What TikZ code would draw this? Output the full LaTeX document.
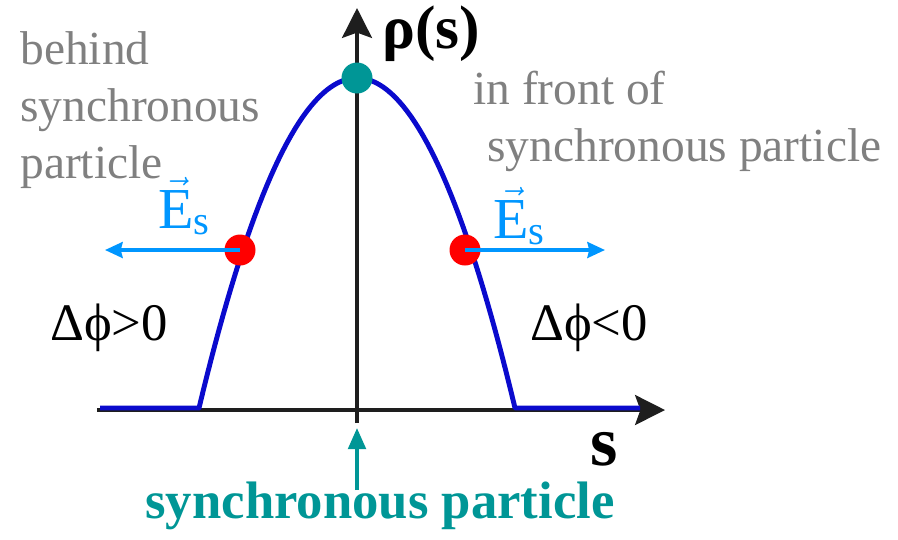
\documentclass[tikz,border=0pt]{standalone}
\usepackage{amsmath}
\usepackage{fontspec}
\setmainfont{Liberation Serif}
\usepackage{tikz}
\usetikzlibrary{arrows.meta}
\definecolor{curveblue}{RGB}{10,10,205}
\definecolor{fieldblue}{RGB}{0,150,255}
\definecolor{syncteal}{RGB}{0,150,150}
\definecolor{notegray}{RGB}{128,128,128}
\definecolor{axisblack}{RGB}{30,30,30}
\newcommand{\fieldE}{$\vec{\text{E}}_{\text{s}}$}

\begin{document}
\begin{tikzpicture}[x=0.02cm,y=-0.02cm,
axis/.style={line width=2.1pt,color=axisblack,-{Stealth[length=17pt,width=17pt,inset=3pt]}},
field/.style={line width=2pt,color=fieldblue,-{Stealth[length=10pt,width=9pt,inset=1pt]}},
dot/.style={circle,fill=#1,minimum size=0.62cm,inner sep=0pt},
note/.style={color=notegray,inner sep=0pt,font=\fontsize{27}{32.5}\selectfont}]
\useasboundingbox(0,0)rectangle(898,539);
% axes
\coordinate(sL)at(97,410);\coordinate(sR)at(665,410);
\coordinate(vB)at(357,423);\coordinate(vT)at(357,8);
\draw[axis](sL)--(sR);
\draw[axis](vB)--(vT);
\node[anchor=base west,inner sep=0pt,font=\fontsize{35}{40}\selectfont\bfseries](rho)at(382,48){ρ(s)};
\node[anchor=base west,inner sep=0pt,font=\fontsize{40}{44}\selectfont\bfseries](s)at(590,465){s};
% bunch profile
\draw[curveblue,line width=2.8pt,line join=round](100,408)--(199,408)
 --plot[domain=199:515,samples=80,variable=\x]({\x},{78+132.2*((\x-357)/100)^2})
 --(640,408);
% particles and fields
\node[dot=syncteal](sync)at(357,78){};
\node[dot=red](lDot)at(240,250){};
\node[dot=red](rDot)at(465,250){};
\coordinate(lTip)at(105,250);\coordinate(rTip)at(605,250);
\draw[field](lDot.center)--(lTip);
\draw[field](rDot.center)--(rTip);
\node[anchor=base west,inner sep=0pt,color=fieldblue,font=\fontsize{33}{36}\selectfont](lE)at(158,228){\fieldE};
\node[anchor=base west,inner sep=0pt,color=fieldblue,font=\fontsize{33}{36}\selectfont](rE)at(493,238){\fieldE};
% labels
\node[note,anchor=north west,align=left](behind)at(20,31){behind\\synchronous\\particle};
\node[note,anchor=north west,align=left](front)at(473,71){in front of\\\hspace*{8pt}synchronous particle};
\node[anchor=base west,inner sep=0pt,font=\fontsize{30}{34}\selectfont](pl)at(50,340){Δϕ>0};
\node[anchor=base west,inner sep=0pt,font=\fontsize{30}{34}\selectfont](pr)at(530,340){Δϕ<0};
% synchronous particle
\node[anchor=base,inner sep=0pt,color=syncteal,font=\fontsize{30}{34}\selectfont\bfseries](synclabel)at(380,518){synchronous particle};
\coordinate(syncFoot)at(357,490);\coordinate(syncTip)at(357,428);
\draw[syncteal,line width=2pt,-{Stealth[length=12pt,width=10pt,inset=0pt]}](syncFoot)--(syncTip);
\end{tikzpicture}
\end{document}
